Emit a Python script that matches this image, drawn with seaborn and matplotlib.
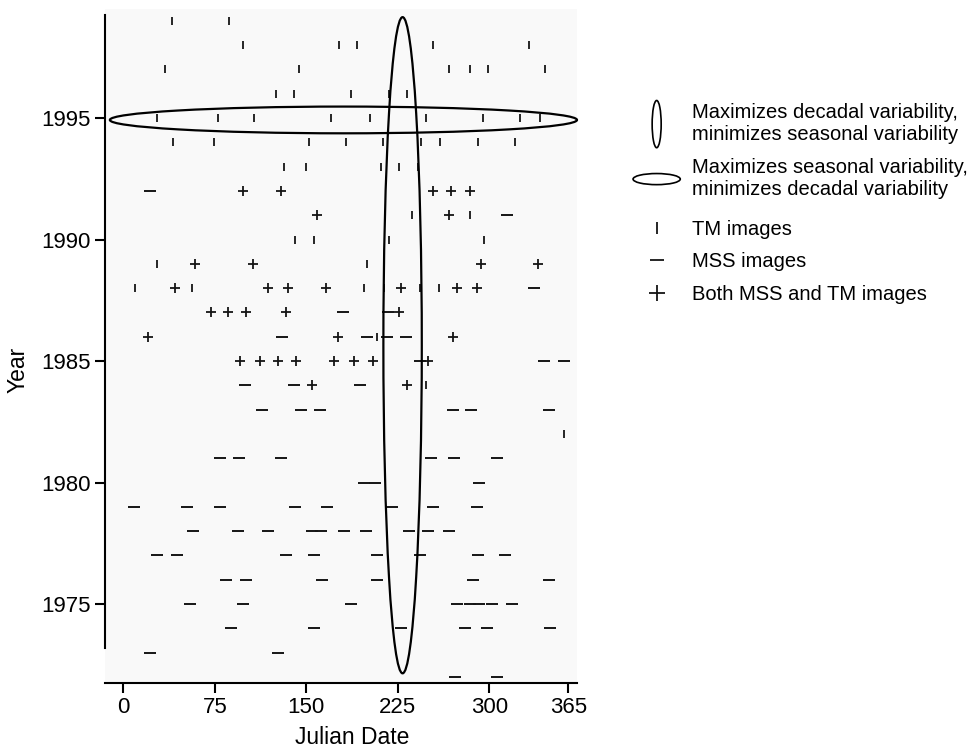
import matplotlib
matplotlib.use("Agg")
import matplotlib.pyplot as plt
import matplotlib.patches as mpatches
from matplotlib.lines import Line2D
from matplotlib.legend_handler import HandlerPatch
import seaborn as sns

# -----------------------------
# DATA (Julian date of each scene, by year)
# -----------------------------
tm_year = ([1999] * 2 + [1998] * 5 + [1997] * 6 + [1996] * 5 + [1995] * 9 + [1994] * 9
           + [1993] * 5 + [1991] * 2 + [1990] * 4 + [1989] * 2 + [1988] * 6
           + [1986] + [1984] + [1982])
tm_day = [40, 87,
          98, 177, 192, 254, 333,
          34, 144, 267, 284, 299, 346,
          125, 140, 187, 218, 233,
          28, 78, 107, 170, 202, 248, 295, 325, 342,
          41, 74, 152, 183, 213, 244, 260, 291, 321,
          132, 150, 211, 226, 242,
          237, 284,
          141, 156, 218, 296,
          28, 200,
          10, 56, 197, 214, 243, 259,
          208,
          248,
          361]

mss_year = ([1992] + [1991] + [1988] + [1987] * 2 + [1986] * 4 + [1985] * 3 + [1984] * 3
            + [1983] * 6 + [1981] * 6 + [1980] * 3 + [1979] * 8 + [1978] * 10
            + [1977] * 8 + [1976] * 6 + [1975] * 8 + [1974] * 6 + [1973] * 2 + [1972] * 2)
mss_day = [22,
           315,
           337,
           180, 217,
           130, 200, 216, 232,
           243, 345, 361,
           100, 140, 194,
           114, 146, 161, 270, 285, 349,
           79, 95, 129, 252, 271, 306,
           197, 206, 292,
           9, 52, 79, 141, 167, 220, 254, 290,
           57, 94, 119, 155, 162, 181, 199, 234, 250, 267,
           28, 44, 133, 156, 208, 243, 291, 313,
           84, 101, 163, 208, 287, 349,
           55, 98, 187, 274, 284, 292, 302, 319,
           88, 156, 228, 280, 298, 350,
           22, 127,
           272, 306]

both_year = ([1992] * 5 + [1991] * 2 + [1989] * 4 + [1988] * 7 + [1987] * 5
             + [1986] * 3 + [1985] * 8 + [1984] * 2)
both_day = [98, 129, 254, 269, 284,
            159, 267,
            59, 106, 293, 340,
            42, 119, 135, 166, 228, 274, 290,
            72, 86, 101, 133, 226,
            20, 176, 270,
            96, 112, 127, 142, 173, 189, 205, 250,
            155, 233]

# ellipses: (centre day, centre year, width in days, height in years)
decadal_ellipse = (229, 1985.65, 31.5, 27.0)
seasonal_ellipse = (180.5, 1994.92, 383, 1.1)

x_ticks = [0, 75, 150, 225, 300, 365]
y_ticks = [1975, 1980, 1985, 1990, 1995]

ellipse_labels = ["Maximizes decadal variability,\nminimizes seasonal variability",
                  "Maximizes seasonal variability,\nminimizes decadal variability"]
marker_labels = ["TM images", "MSS images", "Both MSS and TM images"]

# -----------------------------
# STYLE
# -----------------------------
sns.set_style("ticks")
plt.rcParams["font.family"] = ["Liberation Sans", "DejaVu Sans"]
plt.rcParams["text.color"] = "black"
plt.rcParams["axes.labelcolor"] = "black"
plt.rcParams["xtick.color"] = "black"
plt.rcParams["ytick.color"] = "black"
ink = "#151515"

fig = plt.figure(figsize=(9.74, 7.51), dpi=100)
ax = fig.add_axes([0.1078, 0.0905, 0.4846, 0.898])
ax.set_facecolor("#f9f9f9")

sns.scatterplot(x=tm_day, y=tm_year, marker="|", s=36, color=ink, linewidth=1.3, ax=ax)
sns.scatterplot(x=mss_day, y=mss_year, marker="_", s=80, color=ink, linewidth=1.4, ax=ax)
sns.scatterplot(x=both_day, y=both_year, marker="+", s=50, color=ink, linewidth=1.3, ax=ax)

for cx, cy, w, h in [decadal_ellipse, seasonal_ellipse]:
    ax.add_patch(mpatches.Ellipse((cx, cy), w, h, fill=False, edgecolor="black",
                                  linewidth=1.6, clip_on=False, zorder=5))

ax.set_xlim(-15, 372)
ax.set_ylim(1971.75, 1999.5)
ax.set_xticks(x_ticks)
ax.set_yticks(y_ticks)
ax.set_xlabel("Julian Date", fontsize=16.5)
ax.set_ylabel("Year", fontsize=16.5)
ax.xaxis.set_label_coords(0.523, -0.064)
ax.yaxis.set_label_coords(-0.159, 0.464)
ax.tick_params(axis="both", labelsize=16, width=1.5, length=7, pad=3)

for side in ["top", "right"]:
    ax.spines[side].set_visible(False)
for side in ["left", "bottom"]:
    ax.spines[side].set_linewidth(1.5)
    ax.spines[side].set_color("black")
ax.spines["left"].set_bounds(1973.2, 1999.25)


# -----------------------------
# LEGENDS
# -----------------------------
def tall_ellipse(legend, orig_handle, xdescent, ydescent, width, height, fontsize):
    return mpatches.Ellipse((width / 2 - xdescent, height / 2 - ydescent), 6.5, 34)


def wide_ellipse(legend, orig_handle, xdescent, ydescent, width, height, fontsize):
    return mpatches.Ellipse((width / 2 - xdescent, height / 2 - ydescent), 34, 8)


e1 = mpatches.Ellipse((0, 0), 1, 1, fill=False, edgecolor="black", linewidth=1.2)
e2 = mpatches.Ellipse((0, 0), 1, 1, fill=False, edgecolor="black", linewidth=1.2)
h_tm = Line2D([], [], marker="|", linestyle="none", color=ink, markersize=9, markeredgewidth=1.3)
h_mss = Line2D([], [], marker="_", linestyle="none", color=ink, markersize=10, markeredgewidth=1.3)
h_both = Line2D([], [], marker="+", linestyle="none", color=ink, markersize=11, markeredgewidth=1.3)

common = dict(loc="upper left", bbox_transform=fig.transFigure, frameon=False,
              fontsize=14.5, borderpad=0, borderaxespad=0, handlelength=2.35,
              handletextpad=0.6, numpoints=1)

leg1 = ax.legend([e1, e2], ellipse_labels,
                 handler_map={e1: HandlerPatch(patch_func=tall_ellipse),
                              e2: HandlerPatch(patch_func=wide_ellipse)},
                 bbox_to_anchor=(633 / 974, 1 - 103 / 751), labelspacing=0.68, **common)
for t in leg1.get_texts():
    t.set_linespacing(1.22)
ax.add_artist(leg1)

leg2 = ax.legend([h_tm, h_mss, h_both], marker_labels,
                 bbox_to_anchor=(633 / 974, 1 - 220 / 751), labelspacing=0.66, **common)

fig.savefig("out.png", dpi=100, facecolor="white")
